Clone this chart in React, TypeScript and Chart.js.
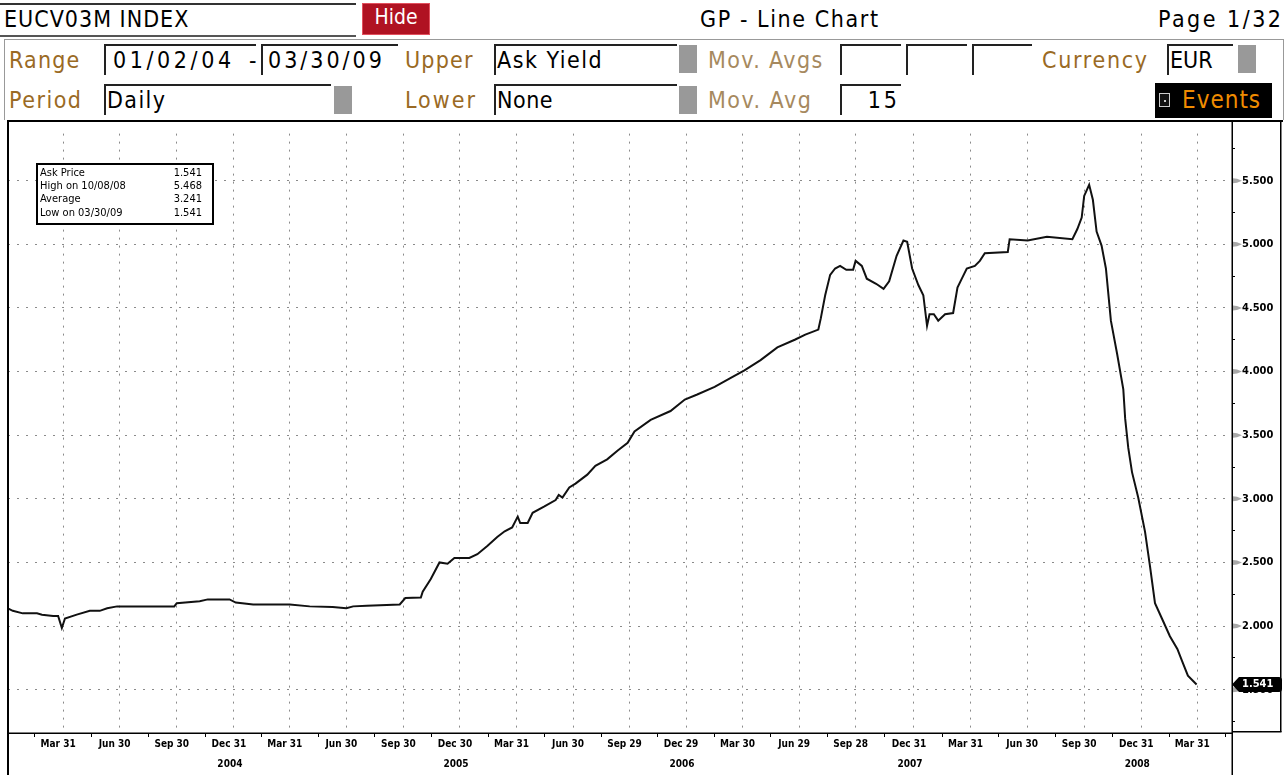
import React, { useEffect, useRef } from 'react';
import { Chart, registerables } from 'chart.js';

Chart.register(...registerables);

// ---------- data ----------
const dates: string[] = [
  '2004-01-02', '2004-01-10', '2004-01-26', '2004-02-18', '2004-02-26', '2004-03-15', '2004-03-23', '2004-03-29',
  '2004-04-03', '2004-04-22', '2004-05-13', '2004-05-29', '2004-06-10', '2004-06-26', '2004-09-26', '2004-09-30',
  '2004-11-06', '2004-11-19', '2004-12-24', '2005-01-03', '2005-01-31', '2005-03-31', '2005-05-02', '2005-06-08',
  '2005-06-30', '2005-07-11', '2005-08-02', '2005-09-24', '2005-10-03', '2005-10-28', '2005-10-31', '2005-11-13',
  '2005-11-27', '2005-12-10', '2005-12-21', '2006-01-14', '2006-01-27', '2006-02-12', '2006-02-28', '2006-03-12',
  '2006-03-24', '2006-04-02', '2006-04-06', '2006-04-18', '2006-04-26', '2006-05-15', '2006-06-02', '2006-06-07',
  '2006-06-13', '2006-06-24', '2006-07-04', '2006-07-23', '2006-08-05', '2006-08-24', '2006-09-10', '2006-09-26',
  '2006-10-07', '2006-11-02', '2006-12-04', '2006-12-27', '2007-01-16', '2007-02-13', '2007-03-11', '2007-04-02',
  '2007-04-28', '2007-05-25', '2007-06-22', '2007-07-09', '2007-07-30', '2007-08-03', '2007-08-10', '2007-08-18',
  '2007-08-26', '2007-09-03', '2007-09-13', '2007-09-24', '2007-09-28', '2007-10-08', '2007-10-16', '2007-10-31',
  '2007-11-12', '2007-11-21', '2007-12-03', '2007-12-14', '2007-12-20', '2007-12-28', '2008-01-07', '2008-01-15',
  '2008-01-21', '2008-01-25', '2008-02-01', '2008-02-08', '2008-02-19', '2008-03-03', '2008-03-10', '2008-03-17',
  '2008-03-25', '2008-04-07', '2008-04-15', '2008-04-23', '2008-05-30', '2008-06-02', '2008-07-01', '2008-08-01',
  '2008-09-11', '2008-09-19', '2008-09-26', '2008-09-30', '2008-10-08', '2008-10-14', '2008-10-20', '2008-10-28',
  '2008-11-04', '2008-11-12', '2008-11-22', '2008-12-02', '2008-12-05', '2008-12-10', '2008-12-16', '2008-12-26',
  '2009-01-06', '2009-01-14', '2009-01-22', '2009-02-04', '2009-02-15', '2009-02-27', '2009-03-07', '2009-03-16',
  '2009-03-30',
];

const askYield: number[] = [
  2.14, 2.12, 2.10, 2.10, 2.09, 2.08, 2.08, 1.985,
  2.06, 2.09, 2.12, 2.12, 2.14, 2.155, 2.155, 2.18,
  2.195, 2.21, 2.21, 2.185, 2.17, 2.17, 2.155, 2.15,
  2.14, 2.155, 2.16, 2.17, 2.22, 2.225, 2.27, 2.37,
  2.50, 2.49, 2.535, 2.535, 2.565, 2.63, 2.70, 2.745,
  2.775, 2.86, 2.81, 2.81, 2.89, 2.94, 2.99, 3.03,
  3.01, 3.09, 3.12, 3.19, 3.26, 3.31, 3.38, 3.44,
  3.53, 3.62, 3.69, 3.78, 3.82, 3.88, 3.95, 4.01,
  4.09, 4.19, 4.25, 4.29, 4.33, 4.42, 4.60, 4.76,
  4.81, 4.83, 4.80, 4.80, 4.87, 4.83, 4.73, 4.69,
  4.65, 4.71, 4.91, 5.03, 5.02, 4.81, 4.68, 4.60,
  4.36, 4.45, 4.45, 4.40, 4.45, 4.46, 4.66, 4.73,
  4.81, 4.83, 4.87, 4.93, 4.94, 5.04, 5.03, 5.06,
  5.04, 5.12, 5.21, 5.38, 5.468, 5.35, 5.10, 4.99,
  4.81, 4.40, 4.14, 3.86, 3.63, 3.40, 3.21, 3.01,
  2.74, 2.47, 2.18, 2.04, 1.92, 1.82, 1.72, 1.61,
  1.541,
];

const xTickDates: string[] = [
  '2004-03-31', '2004-06-30', '2004-09-30', '2004-12-31', '2005-03-31', '2005-06-30', '2005-09-30',
  '2005-12-30', '2006-03-31', '2006-06-30', '2006-09-29', '2006-12-29', '2007-03-30', '2007-06-29',
  '2007-09-28', '2007-12-31', '2008-03-31', '2008-06-30', '2008-09-30', '2008-12-31', '2009-03-31',
];
const xTickLabels: string[] = [
  'Mar 31', 'Jun 30', 'Sep 30', 'Dec 31', 'Mar 31', 'Jun 30', 'Sep 30',
  'Dec 30', 'Mar 31', 'Jun 30', 'Sep 29', 'Dec 29', 'Mar 30', 'Jun 29',
  'Sep 28', 'Dec 31', 'Mar 31', 'Jun 30', 'Sep 30', 'Dec 31', 'Mar 31',
];
const yearLabels: string[] = ['2004', '2005', '2006', '2007', '2008'];
const yearLabelDates: string[] = ['2004-12-31', '2005-12-30', '2006-12-29', '2007-12-31', '2008-12-31'];

const yMajorTicks: number[] = [1.5, 2.0, 2.5, 3.0, 3.5, 4.0, 4.5, 5.0, 5.5];
const yMinorTicks: number[] = [1.25, 1.75, 2.25, 2.75, 3.25, 3.75, 4.25, 4.75, 5.25, 5.75];

const legendLabels: string[] = ['Ask Price', 'High on 10/08/08', 'Average', 'Low on 03/30/09'];
const legendValues: string[] = ['1.541', '5.468', '3.241', '1.541'];
const lastValueLabel = '1.541';

// ---------- helpers ----------
const BASE = Date.UTC(2004, 0, 1);
function dayIndex(s: string): number {
  const [y, m, d] = s.split('-').map(Number);
  return (Date.UTC(y, m - 1, d) - BASE) / 86400000;
}
const X_MIN = dayIndex('2004-01-02') + 0.3;
const X_MAX = dayIndex('2009-05-26');

const majorX = xTickDates.map(dayIndex);
const minorX: number[] = [];
minorX.push(majorX[0] - (majorX[1] - majorX[0]) / 2);
for (let i = 0; i < majorX.length - 1; i++) minorX.push((majorX[i] + majorX[i + 1]) / 2);
minorX.push(majorX[majorX.length - 1] + (majorX[1] - majorX[0]) / 2);

const UI = "'DejaVu Sans Condensed', 'DejaVu Sans', sans-serif";
const TICKF = "'DejaVu Sans Condensed', 'DejaVu Sans', sans-serif";
const BROWN = '#9a6a24';
const LBROWN = '#a6895e';

const framePlugin = {
  id: 'bbgFrame',
  beforeDraw(chart: any) {
    const { ctx, width, height } = chart;
    ctx.save();
    ctx.fillStyle = '#fff';
    ctx.fillRect(0, 0, width, height);
    ctx.restore();
  },
  afterDraw(chart: any) {
    const { ctx, chartArea: ca, scales, height } = chart;
    const xs = scales.x;
    const ys = scales.y;
    ctx.save();
    ctx.fillStyle = '#000';
    // top border
    ctx.fillRect(7, 0, 1283 - 7, 2);
    // left border
    ctx.fillRect(7, 0, 2, height);
    // x axis line
    ctx.fillRect(8, ca.bottom - 0.5, ca.right - 8, 1.5);
    // y axis line
    ctx.fillRect(ca.right - 0.5, 0, 1.5, height);
    // right box
    ctx.fillRect(1280, 0, 1.5, ca.bottom - 1);
    ctx.fillRect(ca.right, ca.bottom - 2, 1281.5 - ca.right, 1.5);

    // gray wedges at major y ticks
    ctx.fillStyle = '#a8a8a8';
    yMajorTicks.forEach((v) => {
      const py = ys.getPixelForValue(v);
      ctx.beginPath();
      ctx.moveTo(ca.right + 1, py - 2.5);
      ctx.lineTo(ca.right + 5, py - 2);
      ctx.lineTo(ca.right + 10, py);
      ctx.lineTo(ca.right + 5, py + 2);
      ctx.lineTo(ca.right + 1, py + 2.5);
      ctx.closePath();
      ctx.fill();
    });

    // year labels
    ctx.fillStyle = '#000';
    ctx.font = `bold 10px ${TICKF}`;
    ctx.textAlign = 'center';
    ctx.textBaseline = 'middle';
    yearLabels.forEach((t, i) => {
      const px = xs.getPixelForValue(dayIndex(yearLabelDates[i])) - 4;
      ctx.fillText(t, px, ca.bottom + 31);
    });

    // legend box
    const lx = 37, ly = 44, lw = 176, lh = 60;
    ctx.fillStyle = '#fff';
    ctx.fillRect(lx, ly, lw, lh);
    ctx.strokeStyle = '#000';
    ctx.lineWidth = 2;
    ctx.strokeRect(lx, ly, lw, lh);
    ctx.fillStyle = '#000';
    ctx.font = `11px ${TICKF}`;
    legendLabels.forEach((t, i) => {
      const ty = ly + 9 + i * 13.3;
      ctx.textAlign = 'left';
      ctx.fillText(t, lx + 3, ty);
      ctx.textAlign = 'right';
      ctx.fillText(legendValues[i], lx + lw - 11, ty);
    });

    // last value tag
    const last = askYield[askYield.length - 1];
    const ty = ys.getPixelForValue(last);
    ctx.fillStyle = '#000';
    ctx.beginPath();
    ctx.moveTo(ca.right, ty);
    ctx.lineTo(ca.right + 7, ty - 7.5);
    ctx.lineTo(1279, ty - 7.5);
    ctx.quadraticCurveTo(1282, ty - 7.5, 1282, ty - 4);
    ctx.lineTo(1282, ty + 4);
    ctx.quadraticCurveTo(1282, ty + 7.5, 1279, ty + 7.5);
    ctx.lineTo(ca.right + 7, ty + 7.5);
    ctx.closePath();
    ctx.fill();
    ctx.fillStyle = '#fff';
    ctx.font = `bold 11px ${TICKF}`;
    ctx.textAlign = 'left';
    ctx.textBaseline = 'middle';
    ctx.fillText(lastValueLabel, ca.right + 10, ty);
    ctx.restore();
  },
};

function Txt(props: { x: number; y: number; size?: number; color?: string; right?: boolean; ls?: number; children: any }) {
  const { x, y, size = 23, color = '#000', right, ls = 0, children } = props;
  const s: any = {
    position: 'absolute',
    top: y - 16,
    height: 32,
    lineHeight: '32px',
    fontSize: size,
    color,
    whiteSpace: 'nowrap',
    fontFamily: UI,
    letterSpacing: ls,
  };
  if (right) s.right = 1288 - x - ls;
  else s.left = x;
  return <div style={s}>{children}</div>;
}

function Box(props: { x: number; y: number; w: number; h?: number; children?: any; alignRight?: boolean; ls?: number; pl?: number }) {
  const { x, y, w, h = 31, children, alignRight, ls = 0, pl = 3 } = props;
  return (
    <div
      style={{
        position: 'absolute',
        left: x,
        top: y,
        width: w,
        height: h,
        boxSizing: 'border-box',
        borderTop: '2px solid #222',
        borderLeft: '2px solid #222',
        fontFamily: UI,
        fontSize: 23,
        lineHeight: `${h - 2}px`,
        paddingLeft: pl,
        paddingRight: 1,
        letterSpacing: ls,
        textAlign: alignRight ? 'right' : 'left',
        color: '#000',
        whiteSpace: 'nowrap',
        overflow: 'hidden',
      }}
    >
      {children}
    </div>
  );
}

function GraySq(props: { x: number; y: number }) {
  return (
    <div
      style={{ position: 'absolute', left: props.x, top: props.y, width: 18, height: 28, background: '#999' }}
    />
  );
}

export default function App() {
  const ref = useRef<HTMLCanvasElement | null>(null);

  useEffect(() => {
    document.body.style.margin = '0';
    const points = dates.map((d, i) => ({ x: dayIndex(d), y: askYield[i] }));
    const chart = new Chart(ref.current as HTMLCanvasElement, {
      type: 'line',
      data: {
        datasets: [
          {
            data: points,
            borderColor: '#111',
            borderWidth: 2,
            pointRadius: 0,
            tension: 0,
            fill: false,
          },
        ],
      },
      options: {
        animation: false,
        responsive: false,
        maintainAspectRatio: false,
        devicePixelRatio: 1,
        events: [],
        layout: { padding: { left: 8, top: 2, right: 0, bottom: 0 } },
        plugins: { legend: { display: false }, tooltip: { enabled: false }, title: { display: false } },
        scales: {
          x: {
            type: 'linear',
            position: 'bottom',
            min: X_MIN,
            max: X_MAX,
            afterBuildTicks: (axis: any) => {
              const all = [...majorX, ...minorX].sort((a, b) => a - b);
              axis.ticks = all.filter((v) => v >= X_MIN && v <= X_MAX).map((v) => ({ value: v }));
            },
            afterFit: (axis: any) => {
              axis.height = 42;
            },
            grid: {
              drawOnChartArea: true,
              drawTicks: true,
              tickLength: 4,
              lineWidth: 1,
              color: (c: any) => (majorX.includes(c.tick?.value) ? '#8a8a8a' : 'rgba(0,0,0,0)'),
              tickColor: (c: any) => (majorX.includes(c.tick?.value) ? 'rgba(0,0,0,0)' : '#000'),
              tickWidth: 1,
            },
            border: { display: false, dash: [2, 6] },
            ticks: {
              autoSkip: false,
              maxRotation: 0,
              minRotation: 0,
              padding: 1,
              labelOffset: -5,
              color: '#000',
              font: { family: TICKF, size: 10, weight: 'bold' },
              callback: (v: any) => {
                const i = majorX.indexOf(v);
                return i >= 0 ? xTickLabels[i] : '';
              },
            },
          },
          y: {
            type: 'linear',
            position: 'right',
            min: 1.16,
            max: 5.87,
            afterBuildTicks: (axis: any) => {
              const all = [...yMajorTicks, ...yMinorTicks].sort((a, b) => a - b);
              axis.ticks = all.map((v) => ({ value: v }));
            },
            afterFit: (axis: any) => {
              axis.width = 56;
            },
            grid: {
              drawOnChartArea: true,
              drawTicks: true,
              tickLength: 3,
              lineWidth: 1,
              color: (c: any) => (yMajorTicks.includes(c.tick?.value) ? '#8a8a8a' : 'rgba(0,0,0,0)'),
              tickColor: (c: any) => (yMajorTicks.includes(c.tick?.value) ? 'rgba(0,0,0,0)' : '#000'),
              tickWidth: 1,
            },
            border: { display: false, dash: [2, 7] },
            ticks: {
              padding: 7,
              color: '#000',
              font: { family: TICKF, size: 11, weight: 'bold' },
              callback: (v: any) => (yMajorTicks.includes(v) ? Number(v).toFixed(3) : ''),
            },
          },
        },
      },
      plugins: [framePlugin],
    } as any);
    return () => chart.destroy();
  }, []);

  return (
    <div
      style={{
        position: 'absolute',
        left: 0,
        top: 0,
        width: 1288,
        height: 775,
        background: '#fff',
        overflow: 'hidden',
        fontFamily: UI,
      }}
    >
      {/* row 1 */}
      <div style={{ position: 'absolute', left: 0, top: 3, width: 356, height: 2, background: '#333' }} />
      <div style={{ position: 'absolute', left: 0, top: 35, width: 356, height: 2, background: '#555' }} />
      <Txt x={4} y={19} ls={1}>EUCV03M INDEX</Txt>
      <div
        style={{
          position: 'absolute',
          left: 362,
          top: 3,
          width: 68,
          height: 32,
          boxSizing: 'border-box',
          background: '#b01222',
          border: '1px solid #e2505e',
          color: '#fff',
          fontFamily: UI,
          fontSize: 21,
          lineHeight: '26px',
          textAlign: 'center',
        }}
      >
        Hide
      </div>
      <Txt x={700} y={19} ls={1.6}>GP - Line Chart</Txt>
      <Txt x={1281} y={19} right ls={2.5}>Page 1/32</Txt>

      {/* frame for the parameter rows */}
      <div
        style={{
          position: 'absolute',
          left: 4,
          top: 39,
          width: 1280,
          height: 82,
          boxSizing: 'border-box',
          border: '1px solid #999',
        }}
      />

      {/* row 2 */}
      <Txt x={9} y={60} color={BROWN} ls={1.2}>Range</Txt>
      <Box x={104} y={44} w={152} ls={3.6} pl={7}>01/02/04</Box>
      <Txt x={249} y={60}>-</Txt>
      <Box x={261} y={44} w={137} ls={3.0} pl={5}>03/30/09</Box>
      <Txt x={405} y={60} color={BROWN} ls={1.2}>Upper</Txt>
      <Box x={494} y={44} w={183} ls={1.5} pl={1}>Ask Yield</Box>
      <GraySq x={679} y={45} />
      <Txt x={708} y={60} color={LBROWN} ls={1.4}>Mov. Avgs</Txt>
      <Box x={840} y={44} w={61} />
      <Box x={906} y={44} w={61} />
      <Box x={972} y={44} w={60} />
      <Txt x={1042} y={60} color={BROWN} ls={1.7}>Currency</Txt>
      <Box x={1167} y={44} w={66} pl={1}>EUR</Box>
      <GraySq x={1238} y={45} />

      {/* row 3 */}
      <Txt x={9} y={100} color={BROWN} ls={1.5}>Period</Txt>
      <Box x={104} y={84} w={227} ls={1.4} pl={1}>Daily</Box>
      <GraySq x={334} y={86} />
      <Txt x={405} y={100} color={BROWN} ls={2}>Lower</Txt>
      <Box x={494} y={84} w={183} ls={0.5} pl={1}>None</Box>
      <GraySq x={679} y={86} />
      <Txt x={708} y={100} color={LBROWN} ls={1.5}>Mov. Avg</Txt>
      <Box x={840} y={84} w={61} alignRight ls={3}>15</Box>
      <div style={{ position: 'absolute', left: 1155, top: 83, width: 117, height: 35, background: '#000' }} />
      <div
        style={{
          position: 'absolute',
          left: 1159,
          top: 93,
          width: 11,
          height: 14,
          boxSizing: 'border-box',
          border: '1px solid #ccc',
          background: '#111',
        }}
      >
        <div style={{ position: 'absolute', left: 4, top: 6, width: 2, height: 2, background: '#ccc' }} />
      </div>
      <Txt x={1182} y={100} color="#f08c00" size={24} ls={1}>Events</Txt>

      <canvas
        ref={ref}
        width={1288}
        height={655}
        style={{ position: 'absolute', left: 0, top: 120, width: 1288, height: 655, display: 'block' }}
      />
    </div>
  );
}
